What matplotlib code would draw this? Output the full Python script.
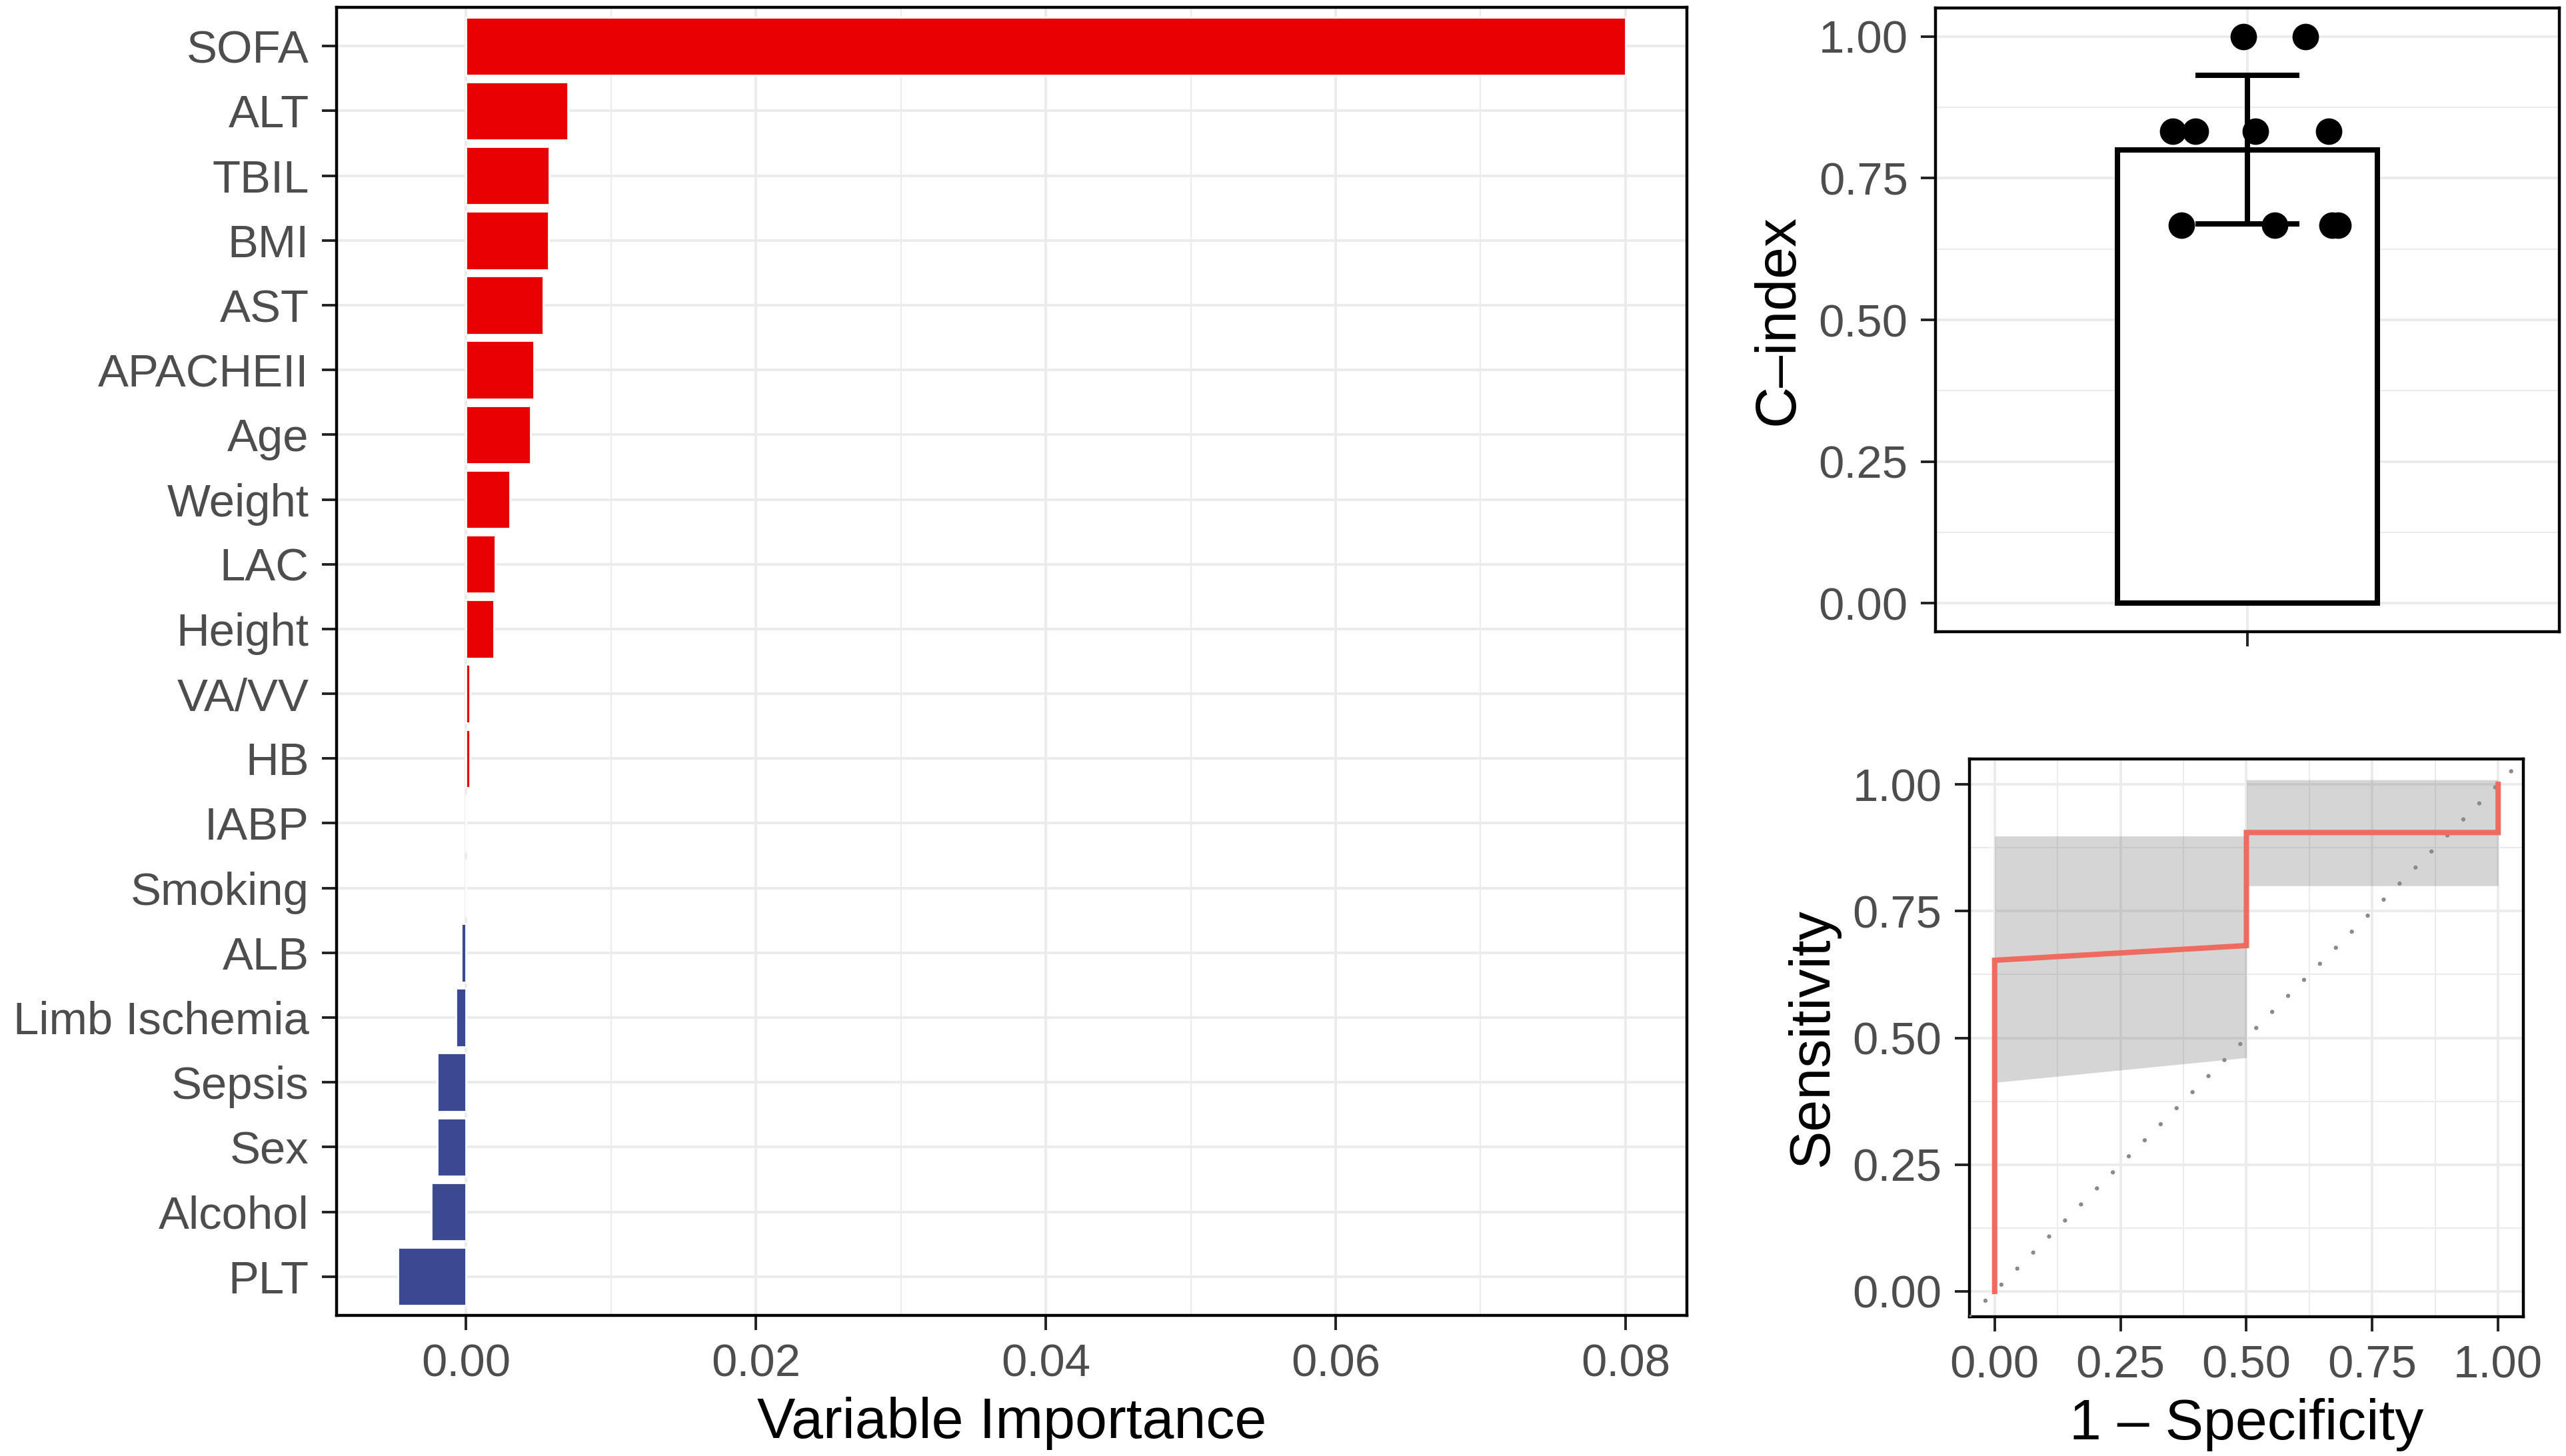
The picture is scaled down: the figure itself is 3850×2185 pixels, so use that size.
import numpy as np
import matplotlib.pyplot as plt
from matplotlib.ticker import MultipleLocator, FixedLocator

plt.rcParams['font.family'] = ['Liberation Sans', 'DejaVu Sans']

# Importancia de variables (de arriba a abajo)
variables = ['SOFA', 'ALT', 'TBIL', 'BMI', 'AST', 'APACHEII', 'Age', 'Weight', 'LAC', 'Height',
             'VA/VV', 'HB', 'IABP', 'Smoking', 'ALB', 'Limb Ischemia', 'Sepsis', 'Sex',
             'Alcohol', 'PLT']
importance = [0.0800, 0.0070, 0.00575, 0.0057, 0.0053, 0.0047, 0.00445, 0.0030, 0.0020, 0.0019,
              0.00027, 0.00027, 0.0, 0.0, -0.00034, -0.0007, -0.0020, -0.0020, -0.0024, -0.0047]

# C-index de cada fold y su posicion con jitter
cindex = [1.0, 1.0, 0.833, 0.833, 0.833, 0.833, 0.667, 0.667, 0.667, 0.667]
cindex_x = [0.992, 1.112, 0.857, 0.900, 1.015, 1.157, 0.873, 1.053, 1.163, 1.174]

# Curva ROC y banda de confianza
roc_fpr = [0.0, 0.0, 0.5, 0.5, 1.0, 1.0]
roc_tpr = [0.0, 0.653, 0.682, 0.905, 0.905, 1.0]
ci_fpr = [0.0, 0.5, 0.5, 1.0]
ci_lo = [0.412, 0.461, 0.800, 0.800]
ci_hi = [0.898, 0.898, 1.009, 1.009]

RED = '#E80000'
BLUE = '#3B4992'
GRID = '#EBEBEB'
TICK_FS = 24.8
TITLE_FS = 31


def estilo(ax):
    for s in ax.spines.values():
        s.set_linewidth(1.6)
        s.set_color('black')
    ax.tick_params(which='major', length=7.9, width=1.4, color='#222222',
                   labelcolor='#4D4D4D', labelsize=TICK_FS, pad=7)
    ax.tick_params(which='minor', length=0)
    ax.set_axisbelow(True)


fig = plt.figure(figsize=(19.25, 10.925), dpi=200)

# 1. Importancia de variables
ax1 = fig.add_axes([0.13117, 0.09657, 0.52623, 0.89840])
ypos = np.arange(len(variables), 0, -1)
colors = [RED if v > 0 else BLUE for v in importance]
ax1.barh(ypos, importance, height=0.9, color=colors, edgecolor='white', linewidth=1.0, zorder=2)
ax1.set_yticks(ypos, variables)
ax1.set_ylim(0.4, len(variables) + 0.6)
lo, hi = min(importance), max(importance)
pad = 0.05 * (hi - lo)
ax1.set_xlim(lo - pad, hi + pad)
ax1.xaxis.set_major_locator(FixedLocator([0, 0.02, 0.04, 0.06, 0.08]))
ax1.xaxis.set_minor_locator(FixedLocator([0.01, 0.03, 0.05, 0.07]))
ax1.xaxis.set_major_formatter(lambda v, p: f'{v:.2f}')
ax1.grid(which='major', color=GRID, lw=1.4)
ax1.grid(which='minor', axis='x', color=GRID, lw=0.7)
ax1.set_xlabel('Variable Importance', fontsize=TITLE_FS, labelpad=6)
estilo(ax1)

# 2. C-index
ax2 = fig.add_axes([0.75429, 0.56613, 0.24312, 0.42838])
media = np.mean(cindex)
sd = np.std(cindex, ddof=1)
ax2.bar([1], [media], width=0.5, facecolor='white', edgecolor='black', linewidth=2.9, zorder=2)
ax2.vlines(1, media - sd, media + sd, color='black', lw=2.9, zorder=3)
ax2.hlines([media - sd, media + sd], 0.9, 1.1, color='black', lw=2.9, zorder=3)
ax2.scatter(cindex_x, cindex, s=205, color='black', zorder=4, linewidths=0)
ax2.set_xlim(0.4, 1.6)
ax2.set_ylim(-0.05, 1.05)
ax2.set_xticks([1], [''])
ax2.yaxis.set_major_locator(MultipleLocator(0.25))
ax2.yaxis.set_minor_locator(FixedLocator([0.125, 0.375, 0.625, 0.875]))
ax2.yaxis.set_major_formatter(lambda v, p: f'{v:.2f}')
ax2.grid(which='major', color=GRID, lw=1.4)
ax2.grid(which='minor', axis='y', color=GRID, lw=0.7)
ax2.set_ylabel('C\u2013index', fontsize=TITLE_FS, labelpad=7)
estilo(ax2)

# 3. Curva ROC
ax3 = fig.add_axes([0.76753, 0.09565, 0.21584, 0.38307])
ax3.fill_between(ci_fpr, ci_lo, ci_hi, color='#808080', alpha=0.33, linewidth=0, zorder=2)
ax3.axline((0, 0), slope=1, color='#8A8A8A', lw=2.3, linestyle=(0, (0.01, 5.3)),
           dash_capstyle='round', zorder=3)
ax3.plot(roc_fpr, roc_tpr, color='#EF6A5F', lw=2.9, solid_joinstyle='miter', zorder=4)
ax3.set_xlim(-0.05, 1.05)
ax3.set_ylim(-0.05, 1.05)
for axis in (ax3.xaxis, ax3.yaxis):
    axis.set_major_locator(MultipleLocator(0.25))
    axis.set_minor_locator(FixedLocator([0.125, 0.375, 0.625, 0.875]))
    axis.set_major_formatter(lambda v, p: f'{v:.2f}')
ax3.grid(which='major', color=GRID, lw=1.4)
ax3.grid(which='minor', color=GRID, lw=0.7)
ax3.set_xlabel('1 \u2013 Specificity', fontsize=TITLE_FS, labelpad=6)
ax3.set_ylabel('Sensitivity', fontsize=TITLE_FS, labelpad=7)
estilo(ax3)

fig.savefig('out.png', dpi=200, facecolor='white')
